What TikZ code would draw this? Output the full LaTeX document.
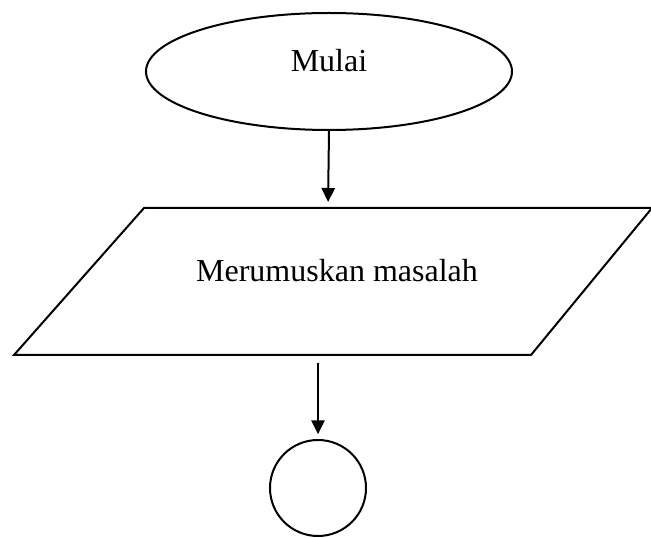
\documentclass[tikz,border=0pt]{standalone}
\usepackage{fontspec}
\setmainfont{Liberation Serif}
\usetikzlibrary{shapes.geometric,arrows.meta}
\tikzset{
  shapeline/.style={draw=black,line width=1.5pt},
  flowarrow/.style={line width=1.5pt,-{Triangle[length=10.5pt,width=10pt]}},
  lbl/.style={font=\fontsize{24}{29}\selectfont}
}
\begin{document}
\begin{tikzpicture}[x=0.75pt,y=-0.75pt]
\useasboundingbox (0,0) rectangle (651,538);
% start ellipse
\node[ellipse,shapeline,inner sep=0pt,minimum width=274.5pt,minimum height=87.75pt,
      label={[lbl,yshift=8pt]center:Mulai}] (start) at (329,71.5) {};
% parallelogram (input/output)
\coordinate (tl) at (144,208);
\coordinate (tr) at (652,208);
\coordinate (br) at (531,355);
\coordinate (bl) at (14,355);
\draw[shapeline,line join=miter] (tl) -- (tr) -- (br) -- (bl) -- cycle;
\node[lbl] (prob) at (337,271) {Merumuskan masalah};
\coordinate (ptop) at (328,208);
\coordinate (pbot) at (318,355);
% connector circle
\node[circle,shapeline,inner sep=0pt,minimum size=72pt] (conn) at (318,488) {};
% arrows
\draw[flowarrow,shorten >=4.5pt] (start.south) -- (ptop);
\draw[flowarrow,shorten <=6pt,shorten >=3.5pt] (pbot) -- (conn.north);
\end{tikzpicture}
\end{document}
